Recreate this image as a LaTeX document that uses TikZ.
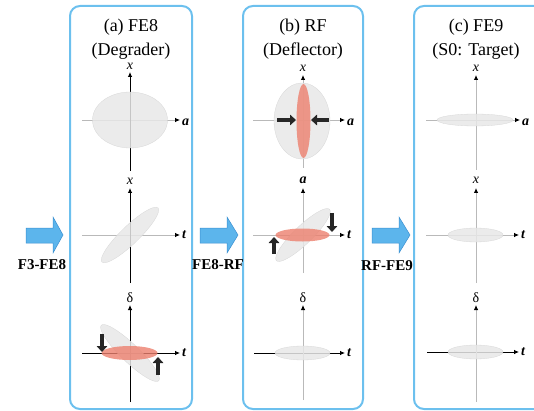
\documentclass[tikz,border=0pt]{standalone}
\usepackage{fontspec}
\setmainfont{Liberation Serif}
\usetikzlibrary{arrows.meta}

\definecolor{panelblue}{RGB}{108,192,238}
\definecolor{flowfill}{RGB}{92,181,236}
\definecolor{flowedge}{RGB}{58,143,208}
\definecolor{beamgray}{RGB}{232,232,232}
\definecolor{beamedge}{RGB}{214,214,214}
\definecolor{beamred}{RGB}{236,128,110}
\definecolor{axisgray}{RGB}{185,185,185}

\tikzset{
  panel/.style={draw=panelblue, line width=2pt, rounded corners=10pt},
  axisblack/.style={draw=black, line width=0.8pt, -{Latex[length=5pt,width=4.5pt]}},
  axisgray/.style={draw=axisgray, line width=0.8pt, -{Latex[length=5pt,width=4.5pt,color=black]}},
  beam/.style={fill=beamgray, draw=beamedge, line width=0.3pt, fill opacity=0.85},
  redbeam/.style={fill=beamred, fill opacity=0.8, draw=none},
  kick/.style={draw=black!85, line width=4.3pt, -{Triangle[length=6pt,width=10.5pt]}},
  flow/.style={fill=flowfill, draw=flowedge, line width=0.5pt},
  title/.style={font=\fontsize{18}{18}\selectfont, anchor=base, inner sep=0pt},
  flowlabel/.style={font=\fontsize{15}{15}\selectfont\bfseries, inner sep=0pt},
  vlab/.style={font=\fontsize{14}{14}\selectfont, anchor=base, inner sep=0pt},
  hlab/.style={font=\fontsize{14}{14}\selectfont\bfseries\itshape, anchor=west, inner sep=0pt, xshift=2pt}
}

\begin{document}
\begin{tikzpicture}[x=1pt,y=-1pt]
\useasboundingbox (0,0) rectangle (534,411);
\clip (0,0) rectangle (534,411);

% ---------- panels ----------
\draw[panel] (70,6) rectangle (192,409);
\draw[panel] (243,6) rectangle (363,409);
\draw[panel] (414,6) rectangle (560,409);

\node[title] (ta1) at (131,32) {(a) FE8};
\node[title] (ta2) at (131,56) {(Degrader)};
\node[title] (tb1) at (303,32) {(b) RF};
\node[title] (tb2) at (303,56) {(Deflector)};
\node[title] (tc1) at (476,32) {(c) FE9};
\node[title] (tc2) at (476,56) {(S0: Target)};

% ---------- transport arrows between stages ----------
\draw[flow] (26,228) -- (53,228) -- (53,217) -- (63,235) -- (53,253) -- (53,243) -- (26,243) -- cycle;
\draw[flow] (200,228) -- (227,228) -- (227,217) -- (238,235) -- (227,253) -- (227,243) -- (200,243) -- cycle;
\draw[flow] (372,228) -- (399,228) -- (399,217) -- (410,235) -- (399,253) -- (399,243) -- (372,243) -- cycle;
\node[flowlabel] (l1) at (42,265) {F3-FE8};
\node[flowlabel] (l2) at (218,265) {FE8-RF};
\node[flowlabel] (l3) at (387,266) {RF-FE9};

% ================= (a) FE8 =================
% x--a plane
\coordinate (a1b) at (130,171); \coordinate (a1t) at (130,72);
\coordinate (a1l) at (82,120);  \coordinate (a1r) at (180,120);
\draw[axisgray] (a1l) -- (a1r);
\draw[axisblack] (a1b) -- (a1t);
\fill[beam] (130,120) ellipse [x radius=37.5, y radius=28];
\node[vlab] (a1x) at (130,69.5) {\itshape x};
\node[hlab, yshift=-2pt] (a1a) at (a1r) {a};

% x--t plane
\coordinate (a2b) at (130,283); \coordinate (a2t) at (130,188);
\coordinate (a2l) at (82,235);  \coordinate (a2r) at (180,235);
\draw[axisgray] (a2l) -- (a2r);
\draw[axisblack] (a2b) -- (a2t);
\fill[beam, rotate around={44:(130,235)}] (130,235) ellipse [x radius=39, y radius=9];
\node[vlab] (a2x) at (130,185) {\itshape x};
\node[hlab] (a2a) at (a2r) {t};

% delta--t plane
\coordinate (a3b) at (130,402); \coordinate (a3t) at (130,305);
\coordinate (a3l) at (82,353);  \coordinate (a3r) at (180,353);
\draw[axisblack] (a3l) -- (a3r);
\draw[axisblack] (a3b) -- (a3t);
\fill[beam, rotate around={-44:(130,353)}] (130,353) ellipse [x radius=40, y radius=9];
\fill[redbeam] (129.5,353) ellipse [x radius=28, y radius=7];
\coordinate (a3k1s) at (102,334); \coordinate (a3k1e) at (102,352);
\coordinate (a3k2s) at (158,375); \coordinate (a3k2e) at (158,357);
\draw[kick] (a3k1s) -- (a3k1e);
\draw[kick] (a3k2s) -- (a3k2e);
\node[vlab] (a3d) at (130,302) {δ};
\node[hlab] (a3a) at (a3r) {t};

% ================= (b) RF =================
% x--a plane
\coordinate (b1b) at (303,168); \coordinate (b1t) at (303,75);
\coordinate (b1l) at (253,120); \coordinate (b1r) at (345,120);
\draw[axisgray] (b1l) -- (b1r);
\draw[axisgray] (b1b) -- (b1t);
\fill[beam] (302,121) ellipse [x radius=28, y radius=38];
\fill[redbeam] (303.5,121) ellipse [x radius=7, y radius=37];
\coordinate (b1k1s) at (277,120); \coordinate (b1k1e) at (296,120);
\coordinate (b1k2s) at (329,120); \coordinate (b1k2e) at (311,120);
\draw[kick] (b1k1s) -- (b1k1e);
\draw[kick] (b1k2s) -- (b1k2e);
\node[vlab] (b1x) at (303,71.5) {\itshape x};
\node[hlab, yshift=-2pt] (b1a) at (b1r) {a};

% a--t plane
\coordinate (b2b) at (303,273); \coordinate (b2t) at (303,188);
\coordinate (b2l) at (253,235); \coordinate (b2r) at (345,235);
\draw[axisgray] (b2l) -- (b2r);
\draw[axisgray] (b2b) -- (b2t);
\fill[beam, rotate around={44:(303,235)}] (303,235) ellipse [x radius=37, y radius=9];
\fill[redbeam] (302.5,235) ellipse [x radius=27, y radius=6.5];
\coordinate (b2k1s) at (332,213); \coordinate (b2k1e) at (332,232);
\coordinate (b2k2s) at (274,254); \coordinate (b2k2e) at (274,237);
\draw[kick] (b2k1s) -- (b2k1e);
\draw[kick] (b2k2s) -- (b2k2e);
\node[vlab] (b2x) at (303,184) {\bfseries\itshape a};
\node[hlab] (b2a) at (b2r) {t};

% delta--t plane
\coordinate (b3b) at (303,400); \coordinate (b3t) at (303,305);
\coordinate (b3l) at (254,353); \coordinate (b3r) at (345,353);
\draw[axisblack] (b3l) -- (b3r);
\draw[axisgray] (b3b) -- (b3t);
\fill[beam] (302.5,353) ellipse [x radius=27.5, y radius=7];
\node[vlab] (b3d) at (303,302) {δ};
\node[hlab] (b3a) at (b3r) {t};

% ================= (c) FE9 =================
% x--a plane
\coordinate (c1b) at (476,170); \coordinate (c1t) at (476,75);
\coordinate (c1l) at (426,120); \coordinate (c1r) at (520,120);
\draw[axisgray] (c1l) -- (c1r);
\draw[axisgray] (c1b) -- (c1t);
\fill[beam] (475,120) ellipse [x radius=38, y radius=6];
\node[vlab] (c1x) at (476,71.5) {\itshape x};
\node[hlab, yshift=-2pt] (c1a) at (c1r) {a};

% x--t plane
\coordinate (c2b) at (476,283); \coordinate (c2t) at (476,188);
\coordinate (c2l) at (426,235); \coordinate (c2r) at (519,235);
\draw[axisgray] (c2l) -- (c2r);
\draw[axisgray] (c2b) -- (c2t);
\fill[beam] (475.5,235) ellipse [x radius=27.5, y radius=7];
\node[vlab] (c2x) at (476,184) {\itshape x};
\node[hlab] (c2a) at (c2r) {t};

% delta--t plane
\coordinate (c3b) at (476,402); \coordinate (c3t) at (476,305);
\coordinate (c3l) at (427,352); \coordinate (c3r) at (519,352);
\draw[axisblack] (c3l) -- (c3r);
\draw[axisgray] (c3b) -- (c3t);
\fill[beam] (475.5,352) ellipse [x radius=27.5, y radius=7];
\node[vlab] (c3d) at (476,302) {δ};
\node[hlab] (c3a) at (c3r) {t};
\end{tikzpicture}
\end{document}
